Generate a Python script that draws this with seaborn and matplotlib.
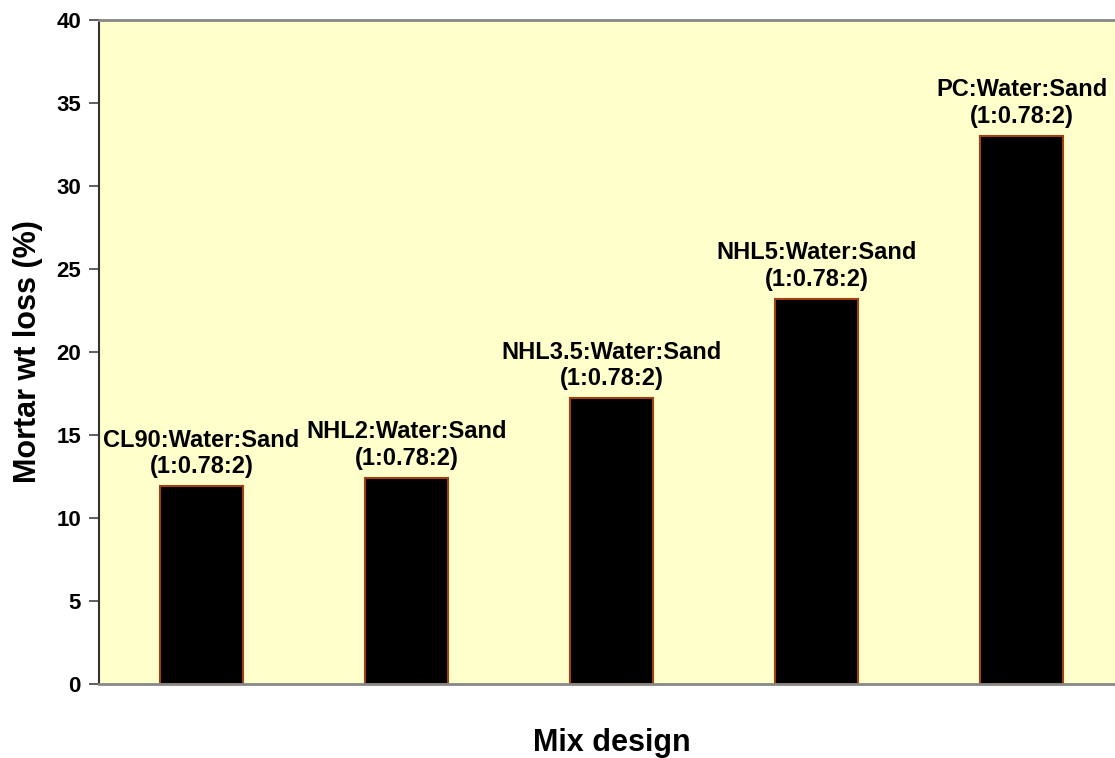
import matplotlib
matplotlib.use("Agg")
import matplotlib.pyplot as plt
import seaborn as sns
import pandas as pd

# Mortar weight loss by mix design
mixes = ["CL90:Water:Sand", "NHL2:Water:Sand", "NHL3.5:Water:Sand",
         "NHL5:Water:Sand", "PC:Water:Sand"]
ratio = "(1:0.78:2)"
wt_loss = [11.9, 12.4, 17.2, 23.2, 33.0]
y_ticks = [0, 5, 10, 15, 20, 25, 30, 35, 40]

df = pd.DataFrame({"mix": mixes, "loss": wt_loss})

sns.set_theme(style="white")
plt.rcParams["font.family"] = ["Liberation Sans", "DejaVu Sans"]
plt.rcParams["text.color"] = "black"
plt.rcParams["axes.labelcolor"] = "black"
plt.rcParams["ytick.color"] = "black"

W, H = 1115, 758
fig = plt.figure(figsize=(W / 100, H / 100), dpi=100)
left, right, top, bottom = 99, 1124, 20, 684
ax = fig.add_axes([left / W, 1 - bottom / H, (right - left) / W, (bottom - top) / H])
ax.set_facecolor("#FFFFCC")

sns.barplot(data=df, x="mix", y="loss", ax=ax, color="black",
            edgecolor="#A0400F", linewidth=1.5, width=0.405, saturation=1)

ax.set_ylim(0, 40)
ax.set_xlim(-0.5, len(mixes) - 0.5)
ax.set_yticks(y_ticks)
ax.set_yticklabels([str(t) for t in y_ticks], fontsize=16, fontweight="bold")
ax.set_xticks([])
ax.tick_params(axis="y", direction="out", length=7, width=1.2, color="#444444",
               pad=6, left=True)

for i, (m, v) in enumerate(zip(mixes, wt_loss)):
    ax.annotate(f"{m}\n{ratio}", xy=(i, v), xytext=(0, 6), textcoords="offset points",
                ha="center", va="bottom", fontsize=17, fontweight="bold",
                linespacing=1.2)

ax.set_xlabel("Mix design", fontsize=22, fontweight="bold", labelpad=32)
ax.set_ylabel("Mortar wt loss (%)", fontsize=22, fontweight="bold", labelpad=9.5)

for s in ["top", "bottom"]:
    ax.spines[s].set_color("#888888")
    ax.spines[s].set_linewidth(2)
ax.spines["left"].set_color("#333333")
ax.spines["left"].set_linewidth(1.5)
ax.spines["right"].set_visible(False)

fig.savefig("out.png", dpi=100, facecolor="white")
